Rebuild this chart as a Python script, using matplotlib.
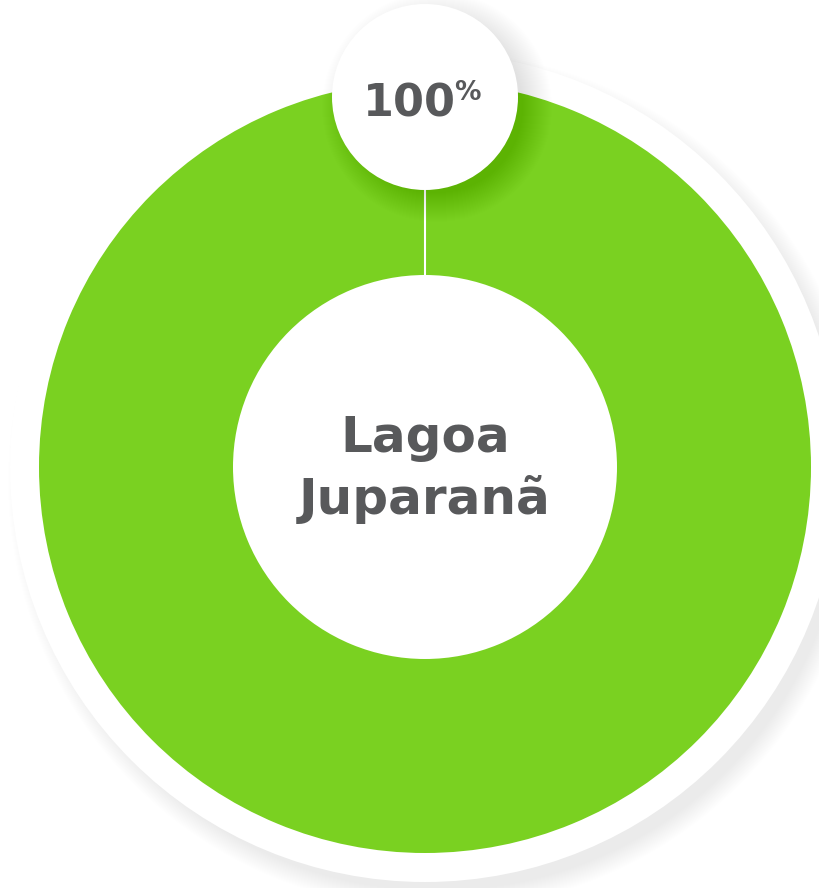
import matplotlib.pyplot as plt
from matplotlib.patches import Circle

# data
labels = ['Lagoa\nJuparanã']
values = [100]
pct_labels = ['100']

green = '#7ad121'
text_gray = '#58595b'

# layout in pixel units (y grows downward)
cx, cy = 425, 467
r_out, r_in = 386, 192
r_back = 415
bx, by, br = 425, 97, 93

fig = plt.figure(figsize=(8.2, 8.88), dpi=100)
ax = fig.add_axes([0, 0, 1, 1])

# soft shadow under the white backing disk, pushed to the lower right
for k in range(20):
    ax.add_patch(Circle((cx + 12, cy + 14), r_back + 14 - k, color='black',
                        alpha=0.005, lw=0, zorder=1))
ax.add_patch(Circle((cx, cy), r_back, color='white', lw=0, zorder=2))

# the donut itself
ax.pie(values, radius=r_out, center=(cx, cy), startangle=-90,
       colors=[green], frame=True,
       wedgeprops=dict(width=r_out - r_in, edgecolor='none', zorder=3))

# thin white separator at the start of the slice
ax.plot([cx, cx], [by + br, cy - r_in], color='white', lw=1.5, zorder=3.5)

# bubble with the percentage and its soft shadow on the ring
for k in range(30):
    ax.add_patch(Circle((bx + 12, by + 10), br + 22 - k, color='black',
                        alpha=0.0045, lw=0, zorder=4))
ax.add_patch(Circle((bx, by), br, color='white', lw=0, zorder=5))

ax.text(409, 116, pct_labels[0], ha='center', va='baseline', fontsize=32,
        fontweight='bold', color=text_gray, zorder=6)
ax.text(454, 100, '%', ha='left', va='baseline', fontsize=19,
        fontweight='bold', color=text_gray, zorder=6)

ax.text(cx, 469, labels[0], ha='center', va='center', fontsize=36,
        fontweight='bold', color=text_gray, linespacing=1.35, zorder=6)

ax.set_xlim(0, 820)
ax.set_ylim(888, 0)
ax.set_aspect('equal')
ax.axis('off')

fig.savefig('out.png', dpi=100, facecolor='white')
